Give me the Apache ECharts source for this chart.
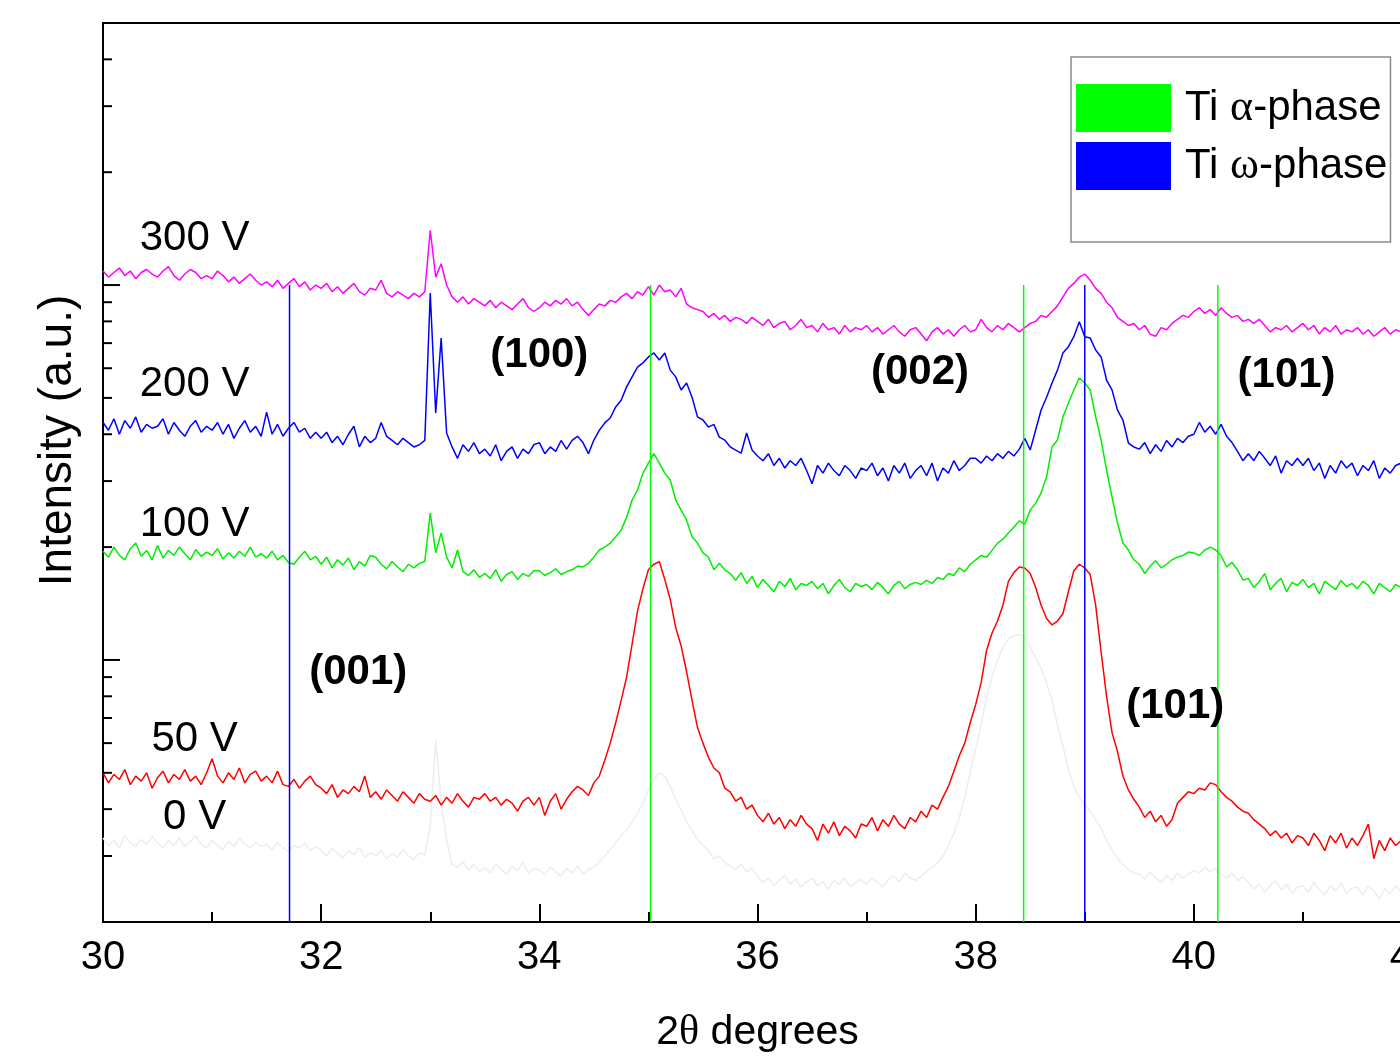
<!DOCTYPE html>
<html>
<head>
<meta charset="utf-8">
<title>XRD Ti films</title>
<script src="https://cdn.jsdelivr.net/npm/echarts@6/dist/echarts.min.js"></script>
<style>
  html, body { margin: 0; padding: 0; background: #fff; }
  #chart { width: 1400px; height: 1064px; }
</style>
</head>
<body>
<div id="chart"></div>
<script>
// scan 30.00 .. 41.90 deg 2theta, one reading every 0.05 deg
const scanStart = 30;
const scanStep = 0.05;

// intensities (counts) per bias voltage
const i300V = [
  10900, 10500, 10800, 11100, 10600, 10900, 10400, 10800, 11000, 10700,
  10500, 10900, 11200, 10600, 10300, 10700, 11000, 10800, 10400, 10600,
  10400, 10900, 10600, 10200, 10500, 10100, 10400, 10700, 10300, 10000,
  10200, 9900, 10300, 9800, 10100, 10400, 9900, 10200, 9700, 10000,
  9800, 10100, 9600, 9900, 9500, 9800, 10100, 9600, 9400, 9800,
  9700, 10300, 9500, 9300, 9600, 9400, 9200, 9500, 9300, 9600,
  14000, 10500, 11400, 10000, 9300, 9000, 9300, 8900, 9200, 9000,
  8800, 9100, 8700, 9000, 8800, 8600, 8900, 9200, 8700, 8500,
  8700, 9000, 8800, 9100, 8900, 9200, 8800, 9000, 8600, 8300,
  8600, 8900, 8800, 9100, 9000, 9300, 9500, 9200, 9600, 9400,
  9900, 9400, 10000, 9600, 9700, 9300, 9800, 8900, 8700, 8600,
  8500, 8200, 8400, 8100, 8300, 8000, 8200, 8100, 7900, 8200,
  8000, 7800, 8100, 7700, 7900, 8000, 7600, 7800, 8100, 7700,
  7800, 7500, 7900, 7600, 7700, 7400, 7800, 7500, 7700, 7600,
  7800, 7500, 7700, 7400, 7600, 7800, 7500, 7300, 7600, 7700,
  7400, 7100, 7500, 7700, 7400, 7600, 7300, 7600, 7800, 7500,
  7600, 8100, 7700, 7500, 7800, 7600, 7900, 7700, 7500, 7700,
  7900, 8000, 8300, 8200, 8500, 8800, 9300, 9800, 10100, 10500,
  10700, 10300, 9800, 9500, 9000, 8700, 8200, 8000, 7800, 7900,
  7600, 7800, 7400, 7300, 7700, 7600, 7900, 8100, 8300, 8200,
  8500, 8700, 8400, 8600, 8300, 8700, 8400, 8200, 8300, 8000,
  8100, 7900, 8100, 7800, 7500, 7700, 7600, 7800, 7500, 7700,
  7900, 7600, 7800, 7400, 7700, 7500, 7800, 7400, 7600, 7500,
  7700, 7400, 7600, 7300, 7500, 7700, 7400, 7600, 7500
];
const i200V = [
  4300, 4100, 4400, 4000, 4350, 4150, 4450, 4050, 4250, 4150,
  4200, 4400, 4000, 4300, 4100, 3950, 4200, 4350, 4050, 4200,
  4100, 4300, 4000, 4250, 3900, 4150, 4350, 4050, 4200, 3950,
  4580, 4000, 4250, 3950, 4150, 4300, 4050, 4150, 3900, 4050,
  3900, 4050, 3800, 3950, 3750, 4000, 4200, 3700, 3950, 3800,
  3900, 4300, 3950, 3850, 3750, 3900, 3800, 3700, 3750, 3850,
  9520, 4555, 7220, 4030, 3700, 3450, 3750, 3600, 3800, 3550,
  3650, 3500, 3750, 3400, 3600, 3700, 3450, 3650, 3550, 3750,
  3800, 3550, 3700, 3600, 3850, 3650, 3850, 3950, 3800, 3550,
  3860, 4100, 4290, 4420, 4730, 4930, 5350, 5690, 6040, 6200,
  6430, 6590, 6310, 6590, 5930, 5690, 5250, 5480, 5020, 4450,
  4365, 4180, 4250, 3930, 3860, 3700, 3630, 3560, 4030, 3630,
  3500, 3400, 3550, 3300, 3450, 3250, 3400, 3300, 3450, 3200,
  2950, 3300, 3150, 3350, 3200, 3100, 3300, 3200, 3050, 3250,
  3200, 3350, 3100, 3250, 3000, 3300, 3150, 3350, 3050, 3200,
  3300, 3100, 3350, 3000, 3250, 3150, 3400, 3200, 3300, 3450,
  3450, 3350, 3500, 3400, 3550, 3450, 3600, 3500, 3650, 3900,
  3630, 4105, 4640, 5020, 5480, 5930, 6590, 6850, 7280, 7980,
  7280, 7220, 6710, 6430, 5580, 5250, 4640, 4365, 3790, 3700,
  3650, 3800, 3550, 3750, 3600, 3850, 3700, 3900, 3800, 3950,
  4000, 4300, 4050, 4200, 4000, 4250, 3950, 3800, 3600, 3400,
  3550, 3400, 3600, 3450, 3300, 3500, 3150, 3400, 3300, 3450,
  3300, 3450, 3200, 3350, 3050, 3300, 3150, 3400, 3250, 3350,
  3100, 3300, 3200, 3400, 3050, 3250, 3150, 3300, 3350
];
const i100V = [
  1950, 1880, 2000, 1900, 1850, 1980, 2050, 1890, 1960, 1850,
  2020, 1870, 1960, 1900, 2000, 1920, 1850, 1970, 1890, 1940,
  1900, 1980, 1860, 1930, 1870, 1950, 1890, 2000, 1880, 1920,
  1870, 1950, 1850, 1900, 1820, 1800, 1880, 1950, 1850, 1890,
  1800, 1880, 1760, 1850, 1790, 1870, 1740, 1830, 1780, 1900,
  1880, 1800, 1750, 1830, 1770, 1720, 1800, 1760, 1810, 1830,
  2466, 1930, 2180, 1880, 1760, 1965, 1720, 1680, 1740, 1660,
  1700, 1650, 1740, 1620, 1690, 1720, 1640, 1700, 1670, 1730,
  1730, 1680, 1710, 1750, 1690, 1720, 1740, 1780, 1770, 1810,
  1880, 1965, 2000, 2050, 2130, 2220, 2400, 2670, 2840, 3150,
  3350, 3550, 3350, 3150, 3020, 2670, 2510, 2360, 2130, 2050,
  1930, 1880, 1740, 1810, 1740, 1700, 1630, 1710, 1600, 1670,
  1560, 1640, 1580, 1520, 1620, 1570, 1650, 1540, 1600, 1580,
  1620, 1550, 1600, 1500, 1580, 1640, 1560, 1520, 1600, 1570,
  1590, 1540, 1610, 1560, 1500, 1580, 1620, 1550, 1590, 1610,
  1590, 1630, 1600, 1660, 1640, 1700, 1680, 1760, 1720, 1800,
  1850, 1900, 1880, 1960, 2050, 2100, 2180, 2260, 2350, 2300,
  2510, 2620, 2790, 3080, 3700, 3860, 4450, 4840, 5250, 5650,
  5480, 5250, 4450, 3860, 3210, 2720, 2320, 2050, 1965, 1850,
  1800, 1700, 1780, 1840, 1760, 1800, 1850, 1880, 1900, 1940,
  1930, 1900, 1965, 2000, 1965, 1900, 1770, 1820, 1740, 1635,
  1650, 1560, 1620, 1700, 1540, 1600, 1650, 1520, 1610, 1580,
  1640, 1560, 1600, 1500, 1620, 1580, 1540, 1630, 1570, 1600,
  1550, 1620, 1580, 1500, 1600, 1560, 1520, 1590, 1560
];
const i50V = [
  500, 470, 495, 480, 510, 465, 490, 475, 500, 455,
  485, 505, 470, 495, 480, 510, 475, 490, 465, 500,
  545, 490, 470, 500, 480, 515, 470, 495, 505, 475,
  490, 470, 505, 465, 460, 480, 455, 475, 490, 465,
  455, 440, 465, 430, 450, 440, 460, 445, 490, 430,
  445, 425, 450, 435, 420, 445, 430, 415, 440, 425,
  420, 435, 410, 430, 415, 440, 420, 405, 430, 425,
  440, 420, 430, 410, 425, 415, 395, 420, 430, 410,
  430, 385, 420, 440, 400, 425, 445, 460, 450, 435,
  470, 490, 540, 600, 680, 780, 900, 1100, 1350, 1550,
  1740, 1800, 1830, 1640, 1450, 1220, 1090, 930, 780, 660,
  600, 550, 515, 500, 455, 445, 420, 430, 400, 410,
  385, 370, 390, 365, 380, 355, 375, 360, 385, 365,
  355, 330, 365, 345, 370, 340, 360, 350, 335, 365,
  360, 380, 350, 375, 360, 385, 365, 355, 380, 370,
  395, 380, 410, 400, 430, 460, 505, 555, 600, 680,
  760, 870, 1060, 1180, 1270, 1400, 1620, 1710, 1770, 1760,
  1700, 1560, 1400, 1290, 1240, 1270, 1330, 1520, 1730, 1800,
  1760, 1690, 1400, 1050, 800, 640, 570, 490, 450, 425,
  405, 380, 395, 370, 385, 360, 375, 415, 430, 445,
  440, 455, 450, 470, 465, 445, 430, 420, 405, 395,
  390, 375, 365, 355, 340, 350, 335, 345, 325, 340,
  335, 320, 345, 330, 310, 340, 325, 345, 315, 335,
  320, 340, 365, 295, 330, 310, 335, 320, 330
];
const i0V = [
  335, 320, 330, 315, 340, 325, 318, 332, 322, 338,
  325, 315, 330, 320, 335, 318, 328, 340, 322, 315,
  330, 320, 312, 328, 318, 335, 322, 315, 326, 318,
  322, 312, 326, 316, 308, 320, 315, 325, 310, 318,
  310, 300, 314, 305, 296, 310, 302, 316, 298, 306,
  300, 310, 295, 305, 298, 312, 300, 294, 306, 302,
  360, 610, 420, 330, 285, 280, 290, 275, 285, 272,
  280, 270, 285, 276, 268, 282, 274, 288, 270, 278,
  275, 268, 280, 272, 265, 278, 270, 282, 268, 276,
  280, 290, 300, 312, 325, 340, 352, 370, 390, 415,
  450, 480, 500, 490, 460, 425, 398, 370, 350, 332,
  320, 310, 295, 300, 288, 282, 276, 285, 272, 278,
  265, 255, 262, 250, 258, 266, 252, 260, 248, 256,
  262, 250, 256, 245, 258, 252, 262, 248, 255, 260,
  252, 262, 255, 248, 260, 265, 256, 270, 262, 258,
  265, 272, 280, 288, 300, 320, 345, 380, 430, 500,
  580, 670, 800, 900, 1000, 1080, 1140, 1160, 1170, 1150,
  1080, 1010, 950, 870, 780, 670, 590, 510, 460, 430,
  410, 395, 375, 355, 330, 312, 295, 285, 276, 270,
  268, 260, 272, 262, 255, 266, 258, 270, 262, 268,
  275, 270, 280, 272, 278, 268, 262, 270, 258, 264,
  255, 245, 252, 240, 250, 258, 244, 252, 238, 248,
  250, 240, 255, 244, 236, 250, 242, 254, 238, 246,
  248, 236, 250, 242, 230, 246, 238, 250, 240
];

// reference peak positions (deg)
const alphaPeaks = [35.02, 38.44, 40.22];
const omegaPeaks = [31.71, 39.0];
const refLineSpan = [200, 10000];

// log axis ticks
const yTicks = [200, 300, 400, 500, 600, 700, 800, 900, 1000,
  2000, 3000, 4000, 5000, 6000, 7000, 8000, 9000, 10000,
  20000, 30000, 40000, 50000];
const yMajorTicks = [1000, 10000];

// text placed on the plot: [2theta, intensity, text]
const curveNames = [
  [30.84, 13350, '300 V'],
  [30.84, 5445, '200 V'],
  [30.84, 2305, '100 V'],
  [30.84, 612, '50 V'],
  [30.84, 381, '0 V']
];
const peakNames = [
  [34.0, 6505, '(100)'],
  [37.49, 5861, '(002)'],
  [40.85, 5754, '(101)'],
  [32.34, 929, '(001)'],
  [39.83, 754, '(101)']
];

const FONT = 'Liberation Sans, Arial, sans-serif';
const SERIF = 'Liberation Serif, DejaVu Serif, serif';

const toPairs = (ys) => ys.map((y, i) => [+(scanStart + i * scanStep).toFixed(2), y]);

const curve = (name, ys, color) => ({
  name: name,
  type: 'line',
  data: toPairs(ys),
  symbol: 'none',
  color: color,
  lineStyle: { color: color, width: 1.5 },
  silent: true,
  z: 2
});

const refLine = (name, x, color) => ({
  name: name,
  type: 'line',
  data: [[x, refLineSpan[0]], [x, refLineSpan[1]]],
  symbol: 'none',
  color: color,
  itemStyle: { color: color },
  lineStyle: { color: color, width: 1.5 },
  silent: true,
  z: 3
});

const textLayer = (items, bold) => ({
  type: 'scatter',
  data: items,
  symbol: 'circle',
  symbolSize: 1,
  itemStyle: { color: 'rgba(0,0,0,0)', opacity: 1 },
  silent: true,
  z: 4,
  label: {
    show: true,
    position: 'inside',
    formatter: (p) => p.data[2],
    fontSize: 42,
    fontFamily: FONT,
    fontWeight: bold ? 'bold' : 'normal',
    color: '#000',
    opacity: 1
  }
});

const series = [
  curve('0 V', i0V, '#ededed'),
  curve('50 V', i50V, '#ff0000'),
  curve('100 V', i100V, '#00ee00'),
  curve('200 V', i200V, '#0000ff'),
  curve('300 V', i300V, '#ff00ff')
];
alphaPeaks.forEach((x) => series.push(refLine('Ti α-phase', x, '#00ff00')));
omegaPeaks.forEach((x) => series.push(refLine('Ti ω-phase', x, '#0000ff')));
series.push(textLayer(curveNames, false));
series.push(textLayer(peakNames, true));
// left axis ticks (log decades with 2..9 subdivisions)
series.push({
  type: 'custom',
  data: yTicks.map((v) => [scanStart, v]),
  clip: false,
  silent: true,
  z: 5,
  renderItem: (params, api) => {
    const v = api.value(1);
    const p = api.coord([api.value(0), v]);
    const len = yMajorTicks.indexOf(v) >= 0 ? 17 : 9;
    return {
      type: 'line',
      shape: { x1: p[0], y1: p[1], x2: p[0] + len, y2: p[1] },
      style: { stroke: '#000', lineWidth: 2 }
    };
  }
});

const option = {
  animation: false,
  backgroundColor: '#fff',
  grid: {
    left: 103, right: -12, top: 23, bottom: 142,
    show: true, borderColor: '#000', borderWidth: 2, backgroundColor: '#fff',
    outerBoundsMode: 'none'
  },
  legend: {
    data: ['Ti α-phase', 'Ti ω-phase'],
    orient: 'vertical',
    left: 1071, top: 57,
    icon: 'rect',
    itemWidth: 95, itemHeight: 48, itemGap: 10,
    selectedMode: false,
    backgroundColor: '#fff',
    borderColor: '#8a8a8a', borderWidth: 1.5,
    padding: [27, 3, 52, 5],
    formatter: (name) => name.replace(/([αω])/, '{g|$1}'),
    textStyle: {
      fontSize: 42, fontFamily: FONT, color: '#000', padding: [0, 0, 0, 9],
      rich: { g: { fontSize: 44, fontFamily: SERIF, color: '#000' } }
    }
  },
  xAxis: {
    type: 'value',
    min: 30, max: 42, interval: 2,
    name: '2{g|θ} degrees',
    nameLocation: 'middle',
    nameGap: 90,
    nameTextStyle: {
      fontSize: 41, fontFamily: FONT, color: '#000',
      rich: { g: { fontSize: 42, fontFamily: SERIF, color: '#000' } }
    },
    axisLine: { lineStyle: { color: '#000', width: 2 } },
    axisTick: { inside: true, length: 18, lineStyle: { color: '#000', width: 2 } },
    minorTick: { show: true, splitNumber: 2, length: 10, lineStyle: { color: '#000', width: 2 } },
    axisLabel: { fontSize: 40, fontFamily: FONT, color: '#000', margin: 16 },
    splitLine: { show: false }
  },
  yAxis: {
    type: 'log',
    logBase: 10,
    min: 200, max: 50000,
    name: 'Intensity (a.u.)',
    nameLocation: 'middle',
    nameRotate: 90,
    nameGap: 22,
    nameTextStyle: { fontSize: 46, fontFamily: FONT, color: '#000', padding: [0, 0, 0, 64] },
    axisLine: { show: true, lineStyle: { color: '#000', width: 2 } },
    axisTick: { show: false },
    axisLabel: { show: false },
    splitLine: { show: false },
    minorTick: { show: false }
  },
  series: series
};

const myChart = echarts.init(document.getElementById('chart'));
myChart.setOption(option);
</script>
</body>
</html>
